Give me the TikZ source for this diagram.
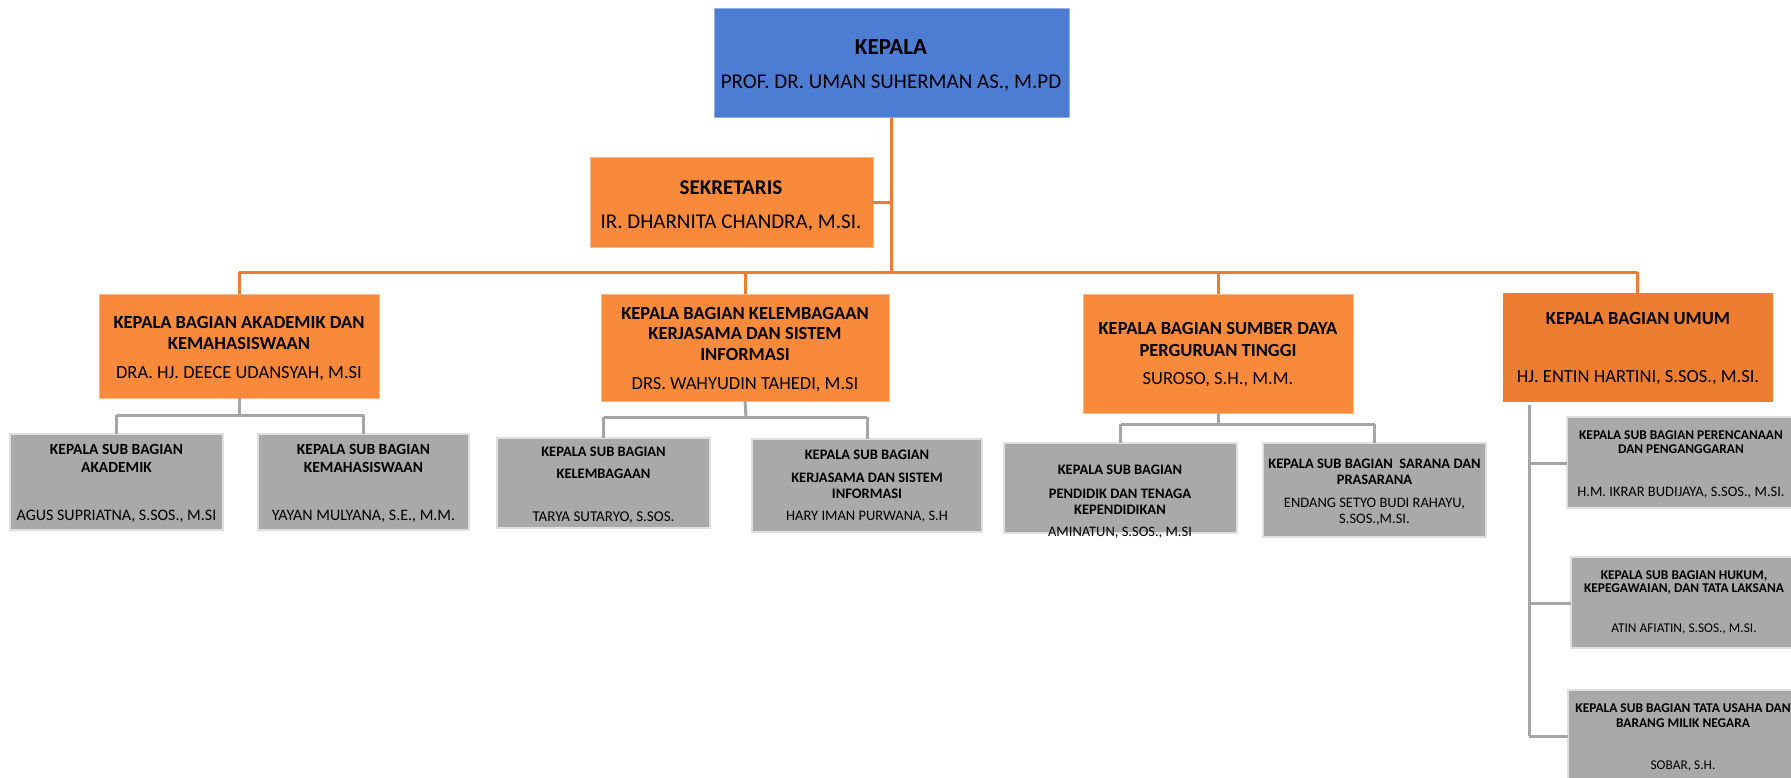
\documentclass[tikz,border=0pt]{standalone}
\usepackage{fontspec}
\setmainfont{Carlito}
\definecolor{kblue}{HTML}{4D7DD3}
\definecolor{korange}{HTML}{F98A3B}
\definecolor{kdark}{HTML}{ED7D31}
\definecolor{kgray}{HTML}{A9A9A9}
\definecolor{kline}{HTML}{ED7D31}
\definecolor{kgline}{HTML}{A5A5A5}
\tikzset{
  boxbase/.style={rectangle, inner sep=0pt, outer sep=0pt, anchor=north west},
  bluebox/.style={boxbase, fill=kblue, draw=kblue!60!white, line width=1pt},
  orangebox/.style={boxbase, fill=korange, draw=korange!60!white, line width=1pt},
  darkbox/.style={boxbase, fill=kdark},
  graybox/.style={boxbase, fill=kgray, draw=gray!25, line width=1.5pt},
  txt/.style={anchor=base, inner sep=0pt, text=black},
  oline/.style={draw=kline, line width=3pt},
  gline/.style={draw=kgline, line width=3pt},
}
\newcommand{\fs}[1]{\fontsize{#1}{#1}\selectfont}
\begin{document}
\begin{tikzpicture}[x=1pt,y=-1pt]
\useasboundingbox (0,0) rectangle (1791,777);
\clip (0,0) rectangle (1791,777);

% ---- boxes ----
\node[bluebox, minimum width=355pt, minimum height=109pt] (kep) at (714,8) {};
\node[orangebox, minimum width=283pt, minimum height=90pt] (sek) at (590,157) {};
\node[orangebox, minimum width=280pt, minimum height=104pt] (b1) at (99,294) {};
\node[orangebox, minimum width=288pt, minimum height=107pt] (b2) at (601,294) {};
\node[orangebox, minimum width=270pt, minimum height=119pt] (b3) at (1083,294) {};
\node[darkbox, minimum width=270pt, minimum height=109pt] (b4) at (1503,293) {};

\node[graybox, minimum width=213pt, minimum height=96pt] (s1) at (10,434) {};
\node[graybox, minimum width=211pt, minimum height=96pt] (s2) at (258,434) {};
\node[graybox, minimum width=213pt, minimum height=90pt] (s3) at (497,438) {};
\node[graybox, minimum width=230pt, minimum height=93pt] (s4) at (752,439) {};
\node[graybox, minimum width=233pt, minimum height=90pt] (s5) at (1004,443) {};
\node[graybox, minimum width=223pt, minimum height=94pt] (s6) at (1263,443) {};
\node[graybox, minimum width=240pt, minimum height=91pt] (s7) at (1567,417) {};
\node[graybox, minimum width=240pt, minimum height=91pt] (s8) at (1571,557) {};
\node[graybox, minimum width=240pt, minimum height=110pt] (s9) at (1568,690) {};

% ---- orange connectors ----
\coordinate (hl) at (239,272);
\coordinate (hr) at (1637,272);
\draw[oline] (kep.south) -- (kep.south |- hl);
\draw[oline] (sek.east) -- (sek.east -| kep.south);
\draw[oline] (hl) -- (hr);
\draw[oline] (hl) -- (b1.north -| hl);
\draw[oline] (b2.north |- hl) -- (b2.north);
\draw[oline] (b3.north |- hl) -- (b3.north);
\draw[oline] (hr) -- (b4.north -| hr);

% ---- gray connectors ----
\coordinate (g1) at (239,415);
\draw[gline] (b1.south) -- (g1);
\draw[gline] (s1.north |- g1) -- (s2.north |- g1);
\draw[gline] (s1.north |- g1) -- (s1.north);
\draw[gline] (s2.north |- g1) -- (s2.north);
\coordinate (g2) at (746,417);
\draw[gline] (b2.south) -- (g2);
\draw[gline] (s3.north |- g2) -- (s4.north |- g2);
\draw[gline] (s3.north |- g2) -- (s3.north);
\draw[gline] (s4.north |- g2) -- (s4.north);
\coordinate (g3) at (1218,424);
\draw[gline] (b3.south) -- (g3);
\draw[gline] (s5.north |- g3) -- (s6.north |- g3);
\draw[gline] (s5.north |- g3) -- (s5.north);
\draw[gline] (s6.north |- g3) -- (s6.north);
\coordinate (gv) at (1529,405);
\coordinate (gb) at (1529,736);
\coordinate (gy7) at (1529,463);
\coordinate (gy8) at (1529,603);
\draw[gline] (gv) -- (gb);
\draw[gline] (gy7) -- (s7.west |- gy7);
\draw[gline] (gy8) -- (s8.west |- gy8);
\draw[gline] (gb) -- (s9.west |- gb);

% ---- texts ----
\node[txt, font=\fs{23}\bfseries] (t0a) at (891,54) {KEPALA};
\node[txt, font=\fs{21}] (t0b) at (891,88) {PROF. DR. UMAN SUHERMAN AS., M.PD};

\node[txt, font=\fs{21}\bfseries] (tsa) at (731,194) {SEKRETARIS};
\node[txt, font=\fs{21}] (tsb) at (731,228) {IR. DHARNITA CHANDRA, M.SI.};

\node[txt, font=\fs{18.5}\bfseries] (t1a) at (239,328) {KEPALA BAGIAN AKADEMIK DAN};
\node[txt, font=\fs{18.5}\bfseries] (t1b) at (239,349) {KEMAHASISWAAN};
\node[txt, font=\fs{18.5}] (t1c) at (239,378) {DRA. HJ. DEECE UDANSYAH, M.SI};

\node[txt, font=\fs{18.5}\bfseries] (t2a) at (745,319) {KEPALA BAGIAN KELEMBAGAAN};
\node[txt, font=\fs{18.5}\bfseries] (t2b) at (745,339) {KERJASAMA DAN SISTEM};
\node[txt, font=\fs{18.5}\bfseries] (t2c) at (745,360) {INFORMASI};
\node[txt, font=\fs{18.5}] (t2d) at (745,389) {DRS. WAHYUDIN TAHEDI, M.SI};

\node[txt, font=\fs{18.5}\bfseries] (t3a) at (1218,334) {KEPALA BAGIAN SUMBER DAYA};
\node[txt, font=\fs{18.5}\bfseries] (t3b) at (1218,356) {PERGURUAN TINGGI};
\node[txt, font=\fs{18.5}] (t3c) at (1218,384) {SUROSO, S.H., M.M.};

\node[txt, font=\fs{18.5}\bfseries] (t4a) at (1638,324) {KEPALA BAGIAN UMUM};
\node[txt, font=\fs{18.5}] (t4b) at (1638,382) {HJ. ENTIN HARTINI, S.SOS., M.SI.};

\node[txt, font=\fs{15.5}\bfseries] (u1a) at (116.5,454) {KEPALA SUB BAGIAN};
\node[txt, font=\fs{15.5}\bfseries] (u1b) at (116.5,472) {AKADEMIK};
\node[txt, font=\fs{16}] (u1c) at (116.5,520) {AGUS SUPRIATNA, S.SOS., M.SI};

\node[txt, font=\fs{15.5}\bfseries] (u2a) at (363.5,454) {KEPALA SUB BAGIAN};
\node[txt, font=\fs{15.5}\bfseries] (u2b) at (363.5,472) {KEMAHASISWAAN};
\node[txt, font=\fs{16}] (u2c) at (363.5,520) {YAYAN MULYANA, S.E., M.M.};

\node[txt, font=\fs{14.5}\bfseries] (u3a) at (603.5,456) {KEPALA SUB BAGIAN};
\node[txt, font=\fs{14.5}\bfseries] (u3b) at (603.5,478) {KELEMBAGAAN};
\node[txt, font=\fs{15}] (u3c) at (603.5,521) {TARYA SUTARYO, S.SOS.};

\node[txt, font=\fs{14.5}\bfseries] (u4a) at (867,459) {KEPALA SUB BAGIAN};
\node[txt, font=\fs{14.5}\bfseries] (u4b) at (867,482) {KERJASAMA DAN SISTEM};
\node[txt, font=\fs{14.5}\bfseries] (u4c) at (867,498) {INFORMASI};
\node[txt, font=\fs{14.5}] (u4d) at (867,520) {HARY IMAN PURWANA, S.H};

\node[txt, font=\fs{14.5}\bfseries] (u5a) at (1120,474) {KEPALA SUB BAGIAN};
\node[txt, font=\fs{14.5}\bfseries] (u5b) at (1120,498) {PENDIDIK DAN TENAGA};
\node[txt, font=\fs{14.5}\bfseries] (u5c) at (1120,514) {KEPENDIDIKAN};
\node[txt, font=\fs{14.5}] (u5d) at (1120,536) {AMINATUN, S.SOS., M.SI};

\node[txt, font=\fs{14.5}\bfseries] (u6a) at (1374.5,468) {KEPALA SUB BAGIAN\ \ SARANA DAN};
\node[txt, font=\fs{14.5}\bfseries] (u6b) at (1374.5,484) {PRASARANA};
\node[txt, font=\fs{14.5}] (u6c) at (1374.5,507) {ENDANG SETYO BUDI RAHAYU,};
\node[txt, font=\fs{14.5}] (u6d) at (1374.5,523) {S.SOS.,M.SI.};

\node[txt, font=\fs{13.4}\bfseries] (u7a) at (1681,439) {KEPALA SUB BAGIAN PERENCANAAN};
\node[txt, font=\fs{13.4}\bfseries] (u7b) at (1681,453) {DAN PENGANGGARAN};
\node[txt, font=\fs{14.5}] (u7c) at (1681,496) {H.M. IKRAR BUDIJAYA, S.SOS., M.SI.};

\node[txt, font=\fs{13.4}\bfseries] (u8a) at (1684,579) {KEPALA SUB BAGIAN HUKUM,};
\node[txt, font=\fs{13.4}\bfseries] (u8b) at (1684,592) {KEPEGAWAIAN, DAN TATA LAKSANA};
\node[txt, font=\fs{13.4}] (u8c) at (1684,632) {ATIN AFIATIN, S.SOS., M.SI.};

\node[txt, font=\fs{13.4}\bfseries] (u9a) at (1683,712) {KEPALA SUB BAGIAN TATA USAHA DAN};
\node[txt, font=\fs{13.4}\bfseries] (u9b) at (1683,727) {BARANG MILIK NEGARA};
\node[txt, font=\fs{13.4}] (u9c) at (1683,769) {SOBAR, S.H.};
\end{tikzpicture}
\end{document}
